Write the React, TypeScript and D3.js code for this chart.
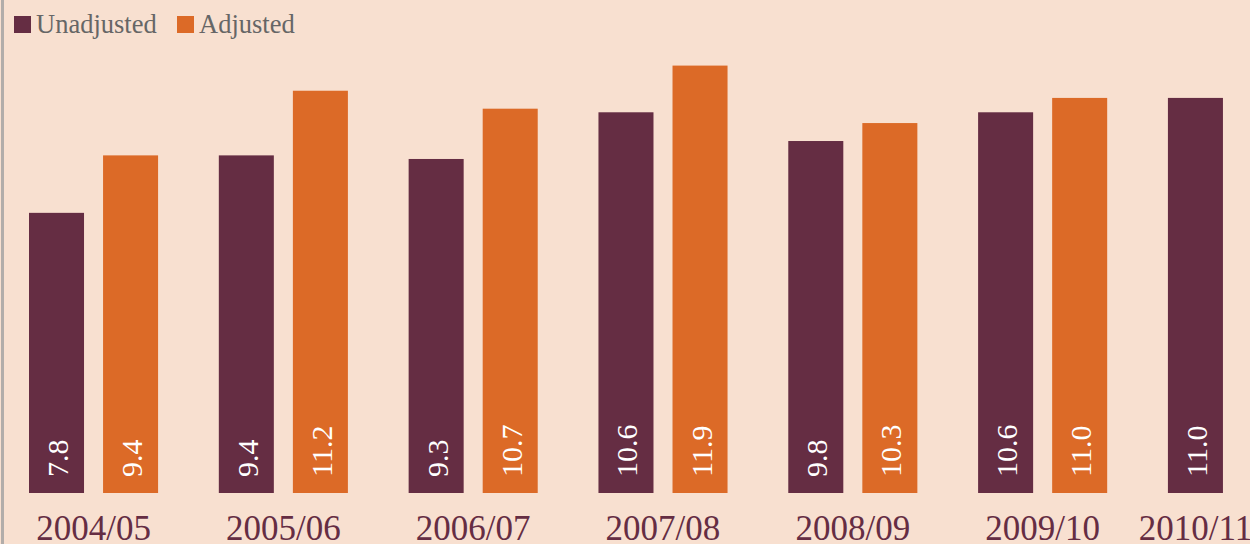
import React, { useRef, useEffect } from 'react';
import * as d3 from 'd3';

const categories = ['2004/05', '2005/06', '2006/07', '2007/08', '2008/09', '2009/10', '2010/11'];
const seriesNames = ['Unadjusted', 'Adjusted'];
const unadjusted = [7.8, 9.4, 9.3, 10.6, 9.8, 10.6, 11.0];
const adjusted: (number | null)[] = [9.4, 11.2, 10.7, 11.9, 10.3, 11.0, null];

const W = 1250;
const H = 544;
const colors = ['#652D43', '#DC6A27'];
const font = '"Liberation Serif", "DejaVu Serif", serif';

const App = () => {
  const ref = useRef<SVGSVGElement>(null);

  useEffect(() => {
    const svg = d3.select(ref.current);
    svg.selectAll('*').remove();

    svg.append('rect').attr('width', W).attr('height', H).attr('fill', '#F8E0D0');
    svg.append('rect').attr('x', 1).attr('y', 0).attr('width', 3).attr('height', H).attr('fill', '#B2ADAA');

    const x0 = d3.scaleBand().domain(categories).range([29, 1297]).paddingInner(0.32).paddingOuter(0);
    const x1 = d3.scaleBand().domain(seriesNames).range([0, x0.bandwidth()]).paddingInner(0.257);
    const y = d3.scaleLinear().domain([0, 12]).range([493, 62]);

    const rows = categories.map((c, i) => ({
      cat: c,
      vals: [unadjusted[i], adjusted[i]],
    }));

    const g = svg.selectAll('.grp').data(rows).enter().append('g')
      .attr('transform', d => `translate(${x0(d.cat)},0)`);

    rows.forEach((row, gi) => {
      const grp = d3.select(g.nodes()[gi]);
      row.vals.forEach((v, si) => {
        if (v == null) return;
        const bx = x1(seriesNames[si])!;
        grp.append('rect')
          .attr('x', bx).attr('y', y(v))
          .attr('width', x1.bandwidth()).attr('height', y(0) - y(v))
          .attr('fill', colors[si]);
        const cx = bx + x1.bandwidth() / 2 + 1;
        grp.append('text')
          .attr('transform', `translate(${cx},477) rotate(-90)`)
          .attr('dy', '0.35em')
          .attr('fill', '#fff')
          .style('font-family', font)
          .style('font-size', '30px')
          .text(v.toFixed(1));
      });
      const hasAdj = row.vals[1] != null;
      const lx = hasAdj ? x0.bandwidth() / 2 : x1('Unadjusted')! + x1.bandwidth() / 2;
      grp.append('text')
        .attr('x', lx).attr('y', 540)
        .attr('text-anchor', 'middle')
        .attr('fill', '#652D43')
        .style('font-family', font)
        .style('font-size', '35px')
        .text(row.cat);
    });

    // legend
    const legendX = [14, 177];
    seriesNames.forEach((s, i) => {
      svg.append('rect').attr('x', legendX[i]).attr('y', 16)
        .attr('width', 17).attr('height', 17).attr('fill', colors[i]);
      svg.append('text').attr('x', legendX[i] + 22).attr('y', 33)
        .attr('fill', '#666')
        .style('font-family', font)
        .style('font-size', '26.5px')
        .text(s);
    });
  }, []);

  return (
    <>
      <style>{`body{margin:0;} svg{display:block;}`}</style>
      <svg ref={ref} width={W} height={H} />
    </>
  );
};

export default App;
